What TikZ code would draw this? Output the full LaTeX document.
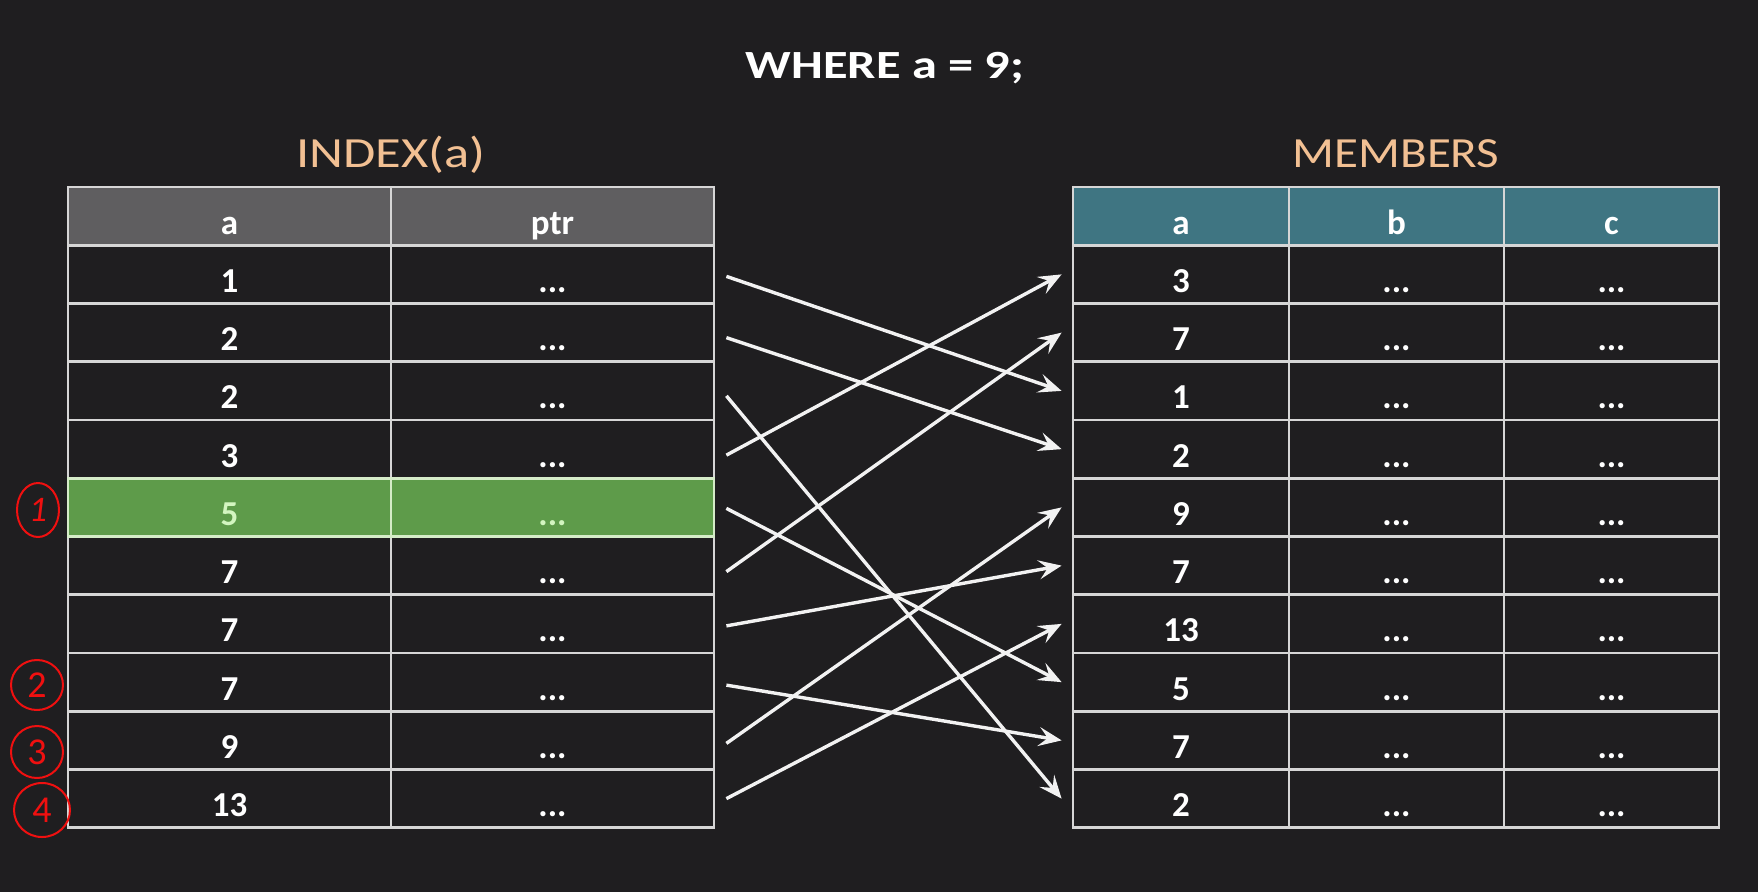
\documentclass[tikz,border=0pt]{standalone}
\usepackage{fontspec}
\setmainfont{Carlito}
\usetikzlibrary{arrows.meta,shapes.geometric}
\definecolor{bg}{HTML}{1F1E20}
\definecolor{hdrgray}{HTML}{5F5E60}
\definecolor{teal}{HTML}{3F7582}
\definecolor{hlgreen}{HTML}{5E9B4A}
\definecolor{hltext}{HTML}{D3F5C0}
\definecolor{hlline}{HTML}{D5ECC8}
\definecolor{orangetxt}{HTML}{F2C093}
\definecolor{gridc}{HTML}{D6D6D6}
\definecolor{arrowc}{HTML}{F2F2F2}
\definecolor{markred}{HTML}{F01010}
\newcommand{\dotsthree}{\textbf{...}}
\tikzset{
  cell/.style={draw=gridc, line width=2.8pt, rectangle, inner sep=0pt,
    minimum height=58.25pt, text height=36pt, text depth=0pt,
    text=white, font=\bfseries\fontsize{35}{44}\selectfont},
  plain/.style={},
  hl/.style={fill=hlgreen, draw=hlline, text=hltext},
  lhdr/.style={fill=hdrgray},
  thdr/.style={fill=teal},
  heading/.style={text=orangetxt, anchor=base, inner sep=0pt, xscale=1.14, transform shape,
    font=\fontsize{43}{52}\selectfont},
  titletext/.style={text=white, anchor=base, inner sep=0pt, xscale=1.26, transform shape,
    font=\bfseries\fontsize{40}{48}\selectfont},
  arr/.style={draw=arrowc, line width=3.4pt, -{Stealth[length=23pt,width=19pt,inset=9pt]}},
  redmark/.style={draw=markred, line width=2pt, ellipse, inner sep=0pt, text=markred,
    font=\fontsize{38}{40}\selectfont}
}
\begin{document}
\begin{tikzpicture}[x=1pt,y=-1pt]
\fill[bg] (0,0) rectangle (1758,892);
\useasboundingbox (0,0) rectangle (1758,892);

% titles
\node[titletext] (where) at (885,78) {WHERE a = 9;};
\node[heading,xscale=1.07] (idxtitle) at (391,167) {INDEX(a)};
\node[heading] (memtitle) at (1396,167) {MEMBERS};

% left table header
\node[cell,lhdr,minimum width=323pt] (Lh1) at (229.5,216.125) {a};
\node[cell,lhdr,minimum width=323pt] (Lh2) at (552.5,216.125) {ptr};
% right table header
\node[cell,thdr,minimum width=216pt] (Mh1) at (1181,216.125) {a};
\node[cell,thdr,minimum width=215pt] (Mh2) at (1396.5,216.125) {b};
\node[cell,thdr,minimum width=215pt] (Mh3) at (1611.5,216.125) {c};

% left table rows
\foreach \v [count=\i] in {1,2,2,3,5,7,7,7,9,13} {
  \pgfmathsetmacro{\yy}{216.125+58.25*\i}
  \ifnum\i=5 \def\st{hl}\else\def\st{plain}\fi
  \node[cell,\st,minimum width=323pt] (La\i) at (229.5,\yy) {\v};
  \node[cell,\st,minimum width=323pt] (Lp\i) at (552.5,\yy) {\dotsthree};
}
% right table rows
\foreach \v [count=\i] in {3,7,1,2,9,7,13,5,7,2} {
  \pgfmathsetmacro{\yy}{216.125+58.25*\i}
  \node[cell,minimum width=216pt] (Ma\i) at (1181,\yy) {\v};
  \node[cell,minimum width=215pt] (Mb\i) at (1396.5,\yy) {\dotsthree};
  \node[cell,minimum width=215pt] (Mc\i) at (1611.5,\yy) {\dotsthree};
}
% redraw highlighted row on top
\node[cell,hl,minimum width=323pt] (La5b) at (229.5,507.375) {5};
\node[cell,hl,minimum width=323pt] (Lp5b) at (552.5,507.375) {\dotsthree};

% pointers
\foreach \s/\t/\dy in {1/3/2,2/4/5,3/10/5,4/1/6,5/8/1,6/2/6,7/6/2,8/9/3,9/5/3,10/7/0} {
  \draw[arr] ([xshift=11pt,yshift=-\dy pt]Lp\s.east) -- ([xshift=-10pt]Ma\t.west);
}

% red annotations
\node[redmark,minimum width=42pt,minimum height=54pt,font=\itshape\fontsize{36}{40}\selectfont] (m1) at (38,510) {1};
\node[redmark,minimum width=52pt,minimum height=50pt] (m2) at (37,685) {2};
\node[redmark,minimum width=52pt,minimum height=52pt] (m3) at (37,752) {3};
\node[redmark,minimum width=56pt,minimum height=54pt] (m4) at (42,810) {4};
\end{tikzpicture}
\end{document}
